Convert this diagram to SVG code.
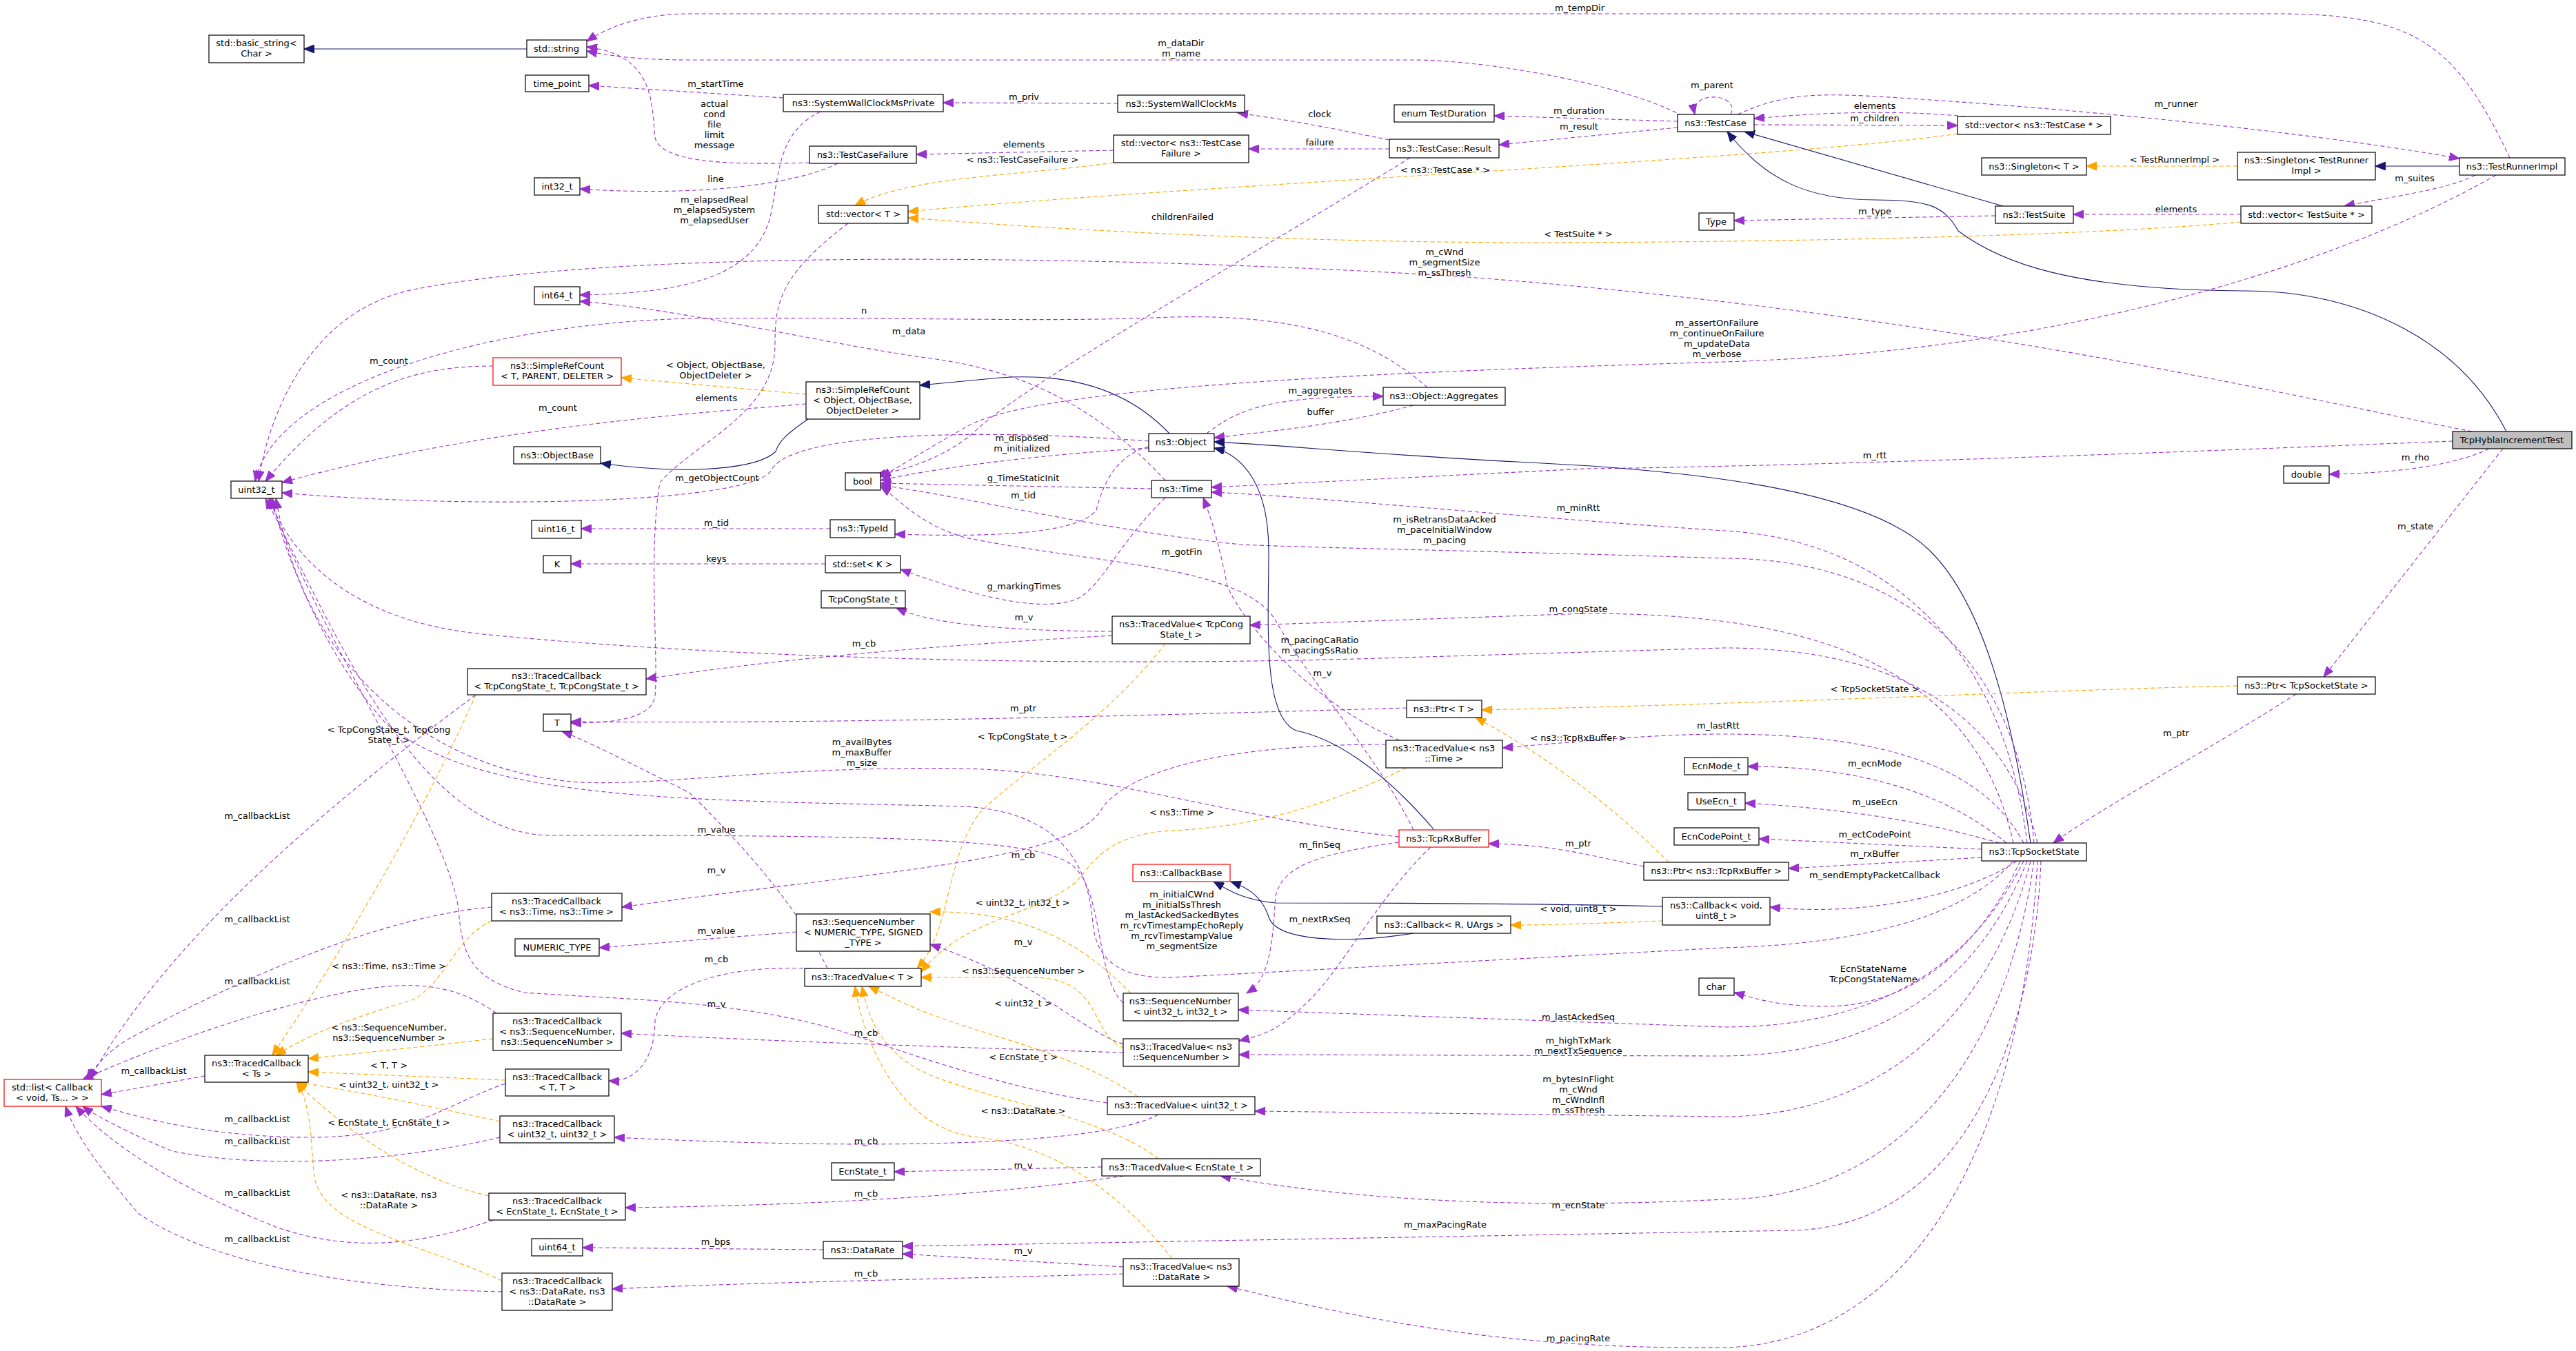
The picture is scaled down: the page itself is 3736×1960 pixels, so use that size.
<svg xmlns="http://www.w3.org/2000/svg" width="3736" height="1960" viewBox="0 0 3736 1960">
<style>
text{font-family:"DejaVu Sans","Liberation Sans",sans-serif;font-size:13px;text-anchor:middle;fill:#000}
.b{fill:#fff;stroke:#000;stroke-width:1.2}
.r{fill:#fff;stroke:#f00;stroke-width:1.2}
.g{fill:#bfbfbf;stroke:#000;stroke-width:1.2}
path{fill:none;stroke-width:1.1}
.p{stroke:#9a32cd;stroke-dasharray:6,4;marker-end:url(#mp)}
.o{stroke:#ffa500;stroke-dasharray:6,4;marker-end:url(#mo)}
.n{stroke:#191970;marker-end:url(#mn)}
</style>
<defs>
<marker id="mp" markerUnits="userSpaceOnUse" markerWidth="16" markerHeight="12" refX="15" refY="6" orient="auto"><path d="M0,0 L15,6 L0,12 z" style="fill:#9a32cd;stroke:#9a32cd"/></marker>
<marker id="mo" markerUnits="userSpaceOnUse" markerWidth="16" markerHeight="12" refX="15" refY="6" orient="auto"><path d="M0,0 L15,6 L0,12 z" style="fill:#ffa500;stroke:#ffa500"/></marker>
<marker id="mn" markerUnits="userSpaceOnUse" markerWidth="16" markerHeight="12" refX="15" refY="6" orient="auto"><path d="M0,0 L15,6 L0,12 z" style="fill:#191970;stroke:#191970"/></marker>
</defs>
<rect width="3736" height="1960" fill="#fff"/>
<g id="connectors">
<path class="n" d="M764,71 L441,71"/>
<path class="p" d="M3640,229 C3560,60 3500,20 3300,20 L1000,20 C930,20 880,40 851,60"/>
<path class="p" d="M2440,168 C2350,120 2150,87 2050,87 L1000,87 C920,87 880,80 851,74"/>
<path class="p" d="M1174,236 C1050,240 960,235 950,200 C945,150 950,80 851,68"/>
<path class="p" d="M1136,142 L854,124"/>
<path class="p" d="M1621,150 L1368,149"/>
<path class="p" d="M1215,237 C1150,270 1000,285 841,274"/>
<path class="p" d="M1190,162 C1130,190 1130,250 1120,300 C1105,400 1000,425 841,428"/>
<path class="p" d="M1615,218 L1329,224"/>
<path class="o" d="M1615,236 C1480,255 1320,255 1240,298"/>
<path class="p" d="M2015,203 C1950,190 1880,175 1795,164"/>
<path class="p" d="M2015,216 L1811,216"/>
<path class="p" d="M2433,176 L2167,168"/>
<path class="p" d="M2433,185 L2174,210"/>
<path class="p" d="M2510,166 C2525,135 2450,130 2458,166"/>
<path class="p" d="M2850,169 C2760,160 2650,162 2544,172"/>
<path class="p" d="M2544,181 L2839,182"/>
<path class="o" d="M2839,194 C2600,230 1700,270 1317,307"/>
<path class="p" d="M2520,166 C2600,130 2650,135 2800,145 C3100,165 3400,200 3567,230"/>
<path class="o" d="M3245,241 L3026,241"/>
<path class="n" d="M3567,241 L3445,241"/>
<path class="p" d="M3590,254 C3550,275 3470,285 3400,299"/>
<path class="p" d="M3250,311 L3007,311"/>
<path class="p" d="M2894,313 L2515,320"/>
<path class="n" d="M2905,299 L2530,191"/>
<path class="o" d="M3250,322 C3000,345 2500,352 2200,352 C1800,350 1500,330 1317,316"/>
<path class="n" d="M3635,626 C3560,480 3400,420 3250,422 C3000,420 2900,380 2840,335 C2820,300 2800,290 2720,290 C2620,290 2560,260 2505,191"/>
<path class="p" d="M2045,229 C1800,380 1500,550 1420,620 C1380,660 1320,680 1270,690"/>
<path class="p" d="M3585,626 C3300,570 2800,450 2100,400 C1600,370 900,360 600,420 C450,450 390,600 375,698"/>
<path class="p" d="M3620,254 C3400,380 3000,510 2500,525 C2000,540 1500,560 1400,620 C1330,660 1300,680 1277,692"/>
<path class="p" d="M715,531 C600,531 500,560 385,698"/>
<path class="o" d="M1169,572 L901,548"/>
<path class="p" d="M1169,586 C1000,600 700,620 409,700"/>
<path class="n" d="M1172,608 C1140,630 1130,640 1125,655 C1100,680 1000,690 871,672"/>
<path class="n" d="M1696,629 C1640,570 1560,540 1450,548 L1334,559"/>
<path class="p" d="M1666,640 C1400,620 1150,630 1120,680 C1100,730 700,740 409,715"/>
<path class="p" d="M1230,324 C1130,400 1124,440 1124,500 C1124,600 1010,640 957,700 C940,800 955,950 950,1010 C945,1040 900,1049 828,1049"/>
<path class="p" d="M1690,697 C1600,600 1500,540 1350,520 C1200,500 1000,450 841,437"/>
<path class="p" d="M2070,562 C2000,500 1900,455 1700,460 C1500,468 1400,460 1000,462 C700,470 400,560 370,698"/>
<path class="p" d="M1750,629 C1800,590 1850,575 2006,575"/>
<path class="p" d="M2050,588 C1950,615 1850,625 1761,635"/>
<path class="p" d="M1666,650 C1500,660 1350,680 1277,697"/>
<path class="p" d="M1670,709 L1277,701"/>
<path class="p" d="M1666,648 C1620,660 1600,700 1590,740 C1560,780 1400,778 1298,775"/>
<path class="p" d="M1204,767 L843,767"/>
<path class="p" d="M1197,818 L828,818"/>
<path class="p" d="M1690,722 C1620,790 1600,850 1560,870 C1500,890 1400,860 1306,826"/>
<path class="p" d="M1613,916 C1450,915 1350,905 1300,882"/>
<path class="p" d="M1613,922 C1300,940 1100,960 937,985"/>
<path class="p" d="M2920,1223 C2860,950 2600,890 2300,890 L1813,907"/>
<path class="p" d="M3557,640 C3300,650 2700,675 2300,680 L1757,707"/>
<path class="p" d="M3610,651 C3570,670 3500,686 3378,688"/>
<path class="p" d="M3630,651 L3370,982"/>
<path class="n" d="M2945,1223 C2920,1050 2880,880 2800,800 C2700,700 2400,680 2200,670 C2000,660 1850,645 1761,641"/>
<path class="p" d="M2940,1223 C2900,900 2700,780 2500,770 C2200,750 1900,720 1757,714"/>
<path class="p" d="M2950,1223 C2920,900 2700,810 2500,810 C2200,800 1900,795 1800,790 C1600,770 1400,720 1277,704"/>
<path class="p" d="M2050,1204 C2000,1100 1900,990 1850,900 C1800,820 1600,820 1400,780 C1330,760 1300,720 1277,706"/>
<path class="p" d="M2030,1074 C1900,1020 1800,900 1780,850 C1770,800 1760,760 1745,722"/>
<path class="p" d="M2955,1223 C2900,1000 2700,940 2500,940 L2000,955 C1500,970 1000,950 700,920 C500,900 420,800 390,723"/>
<path class="p" d="M2040,1027 C1600,1040 1200,1050 828,1047"/>
<path class="o" d="M3245,995 C3000,1000 2600,1020 2149,1030"/>
<path class="p" d="M3330,1007 C3200,1090 3050,1170 2978,1223"/>
<path class="o" d="M2420,1251 C2350,1180 2250,1100 2140,1041"/>
<path class="p" d="M2935,1223 C2880,1120 2750,1065 2500,1065 C2400,1065 2300,1075 2179,1085"/>
<path class="p" d="M2029,1214 C1800,1190 1600,1120 1400,1115 C1100,1110 900,1150 800,1130 C650,1110 450,1000 400,723"/>
<path class="o" d="M1690,934 C1600,1050 1480,1120 1420,1180 C1370,1250 1380,1350 1330,1405"/>
<path class="o" d="M2040,1114 C1900,1180 1800,1200 1700,1205 C1600,1210 1580,1260 1560,1280 C1500,1330 1400,1330 1336,1410"/>
<path class="p" d="M2010,1080 C1800,1080 1650,1110 1600,1170 C1560,1250 1300,1260 902,1316"/>
<path class="p" d="M1629,1455 C1590,1420 1600,1300 1560,1260 C1520,1215 1300,1212 800,1212 C600,1212 480,900 385,723"/>
<path class="p" d="M1606,1600 C1450,1580 1300,1520 1200,1490 C1050,1450 900,1450 760,1440 C680,1420 670,1380 665,1320 C650,1200 450,900 392,723"/>
<path class="p" d="M1155,1352 L869,1375"/>
<path class="p" d="M1200,1405 C1150,1300 1050,1200 1000,1150 C900,1100 840,1070 815,1061"/>
<path class="p" d="M1175,1405 C1050,1400 960,1430 950,1480 C950,1540 920,1570 883,1568"/>
<path class="p" d="M1629,1515 C1560,1490 1500,1420 1349,1370"/>
<path class="o" d="M1640,1441 C1580,1380 1500,1320 1349,1323"/>
<path class="o" d="M1629,1520 C1580,1500 1600,1420 1500,1418 L1336,1418"/>
<path class="o" d="M1650,1591 C1550,1520 1400,1500 1300,1450 L1260,1431"/>
<path class="o" d="M1680,1681 C1600,1620 1450,1600 1350,1560 C1280,1530 1260,1480 1250,1431"/>
<path class="o" d="M1700,1826 C1600,1700 1500,1660 1420,1650 C1300,1640 1250,1500 1240,1431"/>
<path class="p" d="M1629,1527 C1400,1520 1100,1510 901,1499"/>
<path class="p" d="M1680,1617 C1600,1660 1300,1670 891,1650"/>
<path class="p" d="M1598,1693 L1297,1700"/>
<path class="p" d="M1630,1706 C1400,1740 1100,1750 907,1752"/>
<path class="p" d="M1194,1813 L845,1810"/>
<path class="p" d="M1629,1838 C1500,1830 1400,1825 1309,1819"/>
<path class="p" d="M1629,1848 C1400,1855 1100,1860 888,1870"/>
<path class="p" d="M2960,1249 C2950,1500 2850,1780 2600,1785 L1309,1808"/>
<path class="p" d="M2955,1249 C2930,1700 2750,1950 2500,1955 C2200,1958 2000,1920 1780,1866"/>
<path class="p" d="M2950,1249 C2900,1600 2700,1740 2500,1740 C2200,1755 1950,1740 1770,1706"/>
<path class="p" d="M2945,1249 C2880,1500 2700,1620 2500,1620 L1820,1612"/>
<path class="p" d="M2940,1249 C2860,1450 2700,1530 2500,1532 L1797,1530"/>
<path class="p" d="M2935,1249 C2850,1420 2700,1490 2500,1490 L1796,1465"/>
<path class="p" d="M2930,1249 C2860,1400 2750,1460 2650,1460 C2580,1460 2550,1450 2515,1440"/>
<path class="p" d="M2925,1249 C2850,1300 2700,1330 2567,1316"/>
<path class="p" d="M2874,1244 L2594,1260"/>
<path class="p" d="M2874,1232 L2551,1217"/>
<path class="p" d="M2900,1223 C2800,1195 2700,1175 2531,1165"/>
<path class="p" d="M2910,1223 C2820,1150 2700,1112 2535,1112"/>
<path class="p" d="M2384,1257 C2300,1240 2250,1225 2159,1224"/>
<path class="n" d="M2411,1315 C2200,1310 2000,1310 1850,1310 C1800,1305 1780,1290 1760,1279"/>
<path class="n" d="M2050,1354 C1950,1370 1850,1365 1840,1330 C1830,1300 1810,1288 1785,1279"/>
<path class="o" d="M2411,1336 C2300,1340 2250,1342 2191,1342"/>
<path class="n" d="M2080,1204 C2000,1110 1930,1070 1880,1060 C1830,1040 1840,900 1840,800 C1840,700 1800,660 1761,650"/>
<path class="p" d="M2029,1222 C1900,1240 1860,1260 1850,1300 C1845,1380 1840,1420 1808,1441"/>
<path class="p" d="M2075,1229 C2000,1300 1950,1400 1900,1450 C1860,1490 1840,1500 1797,1510"/>
<path class="p" d="M2920,1249 C2850,1330 2700,1370 2500,1375 L1700,1418 C1620,1420 1590,1390 1585,1340 C1580,1280 1560,1180 1400,1170 C1000,1160 700,1165 560,1050 C470,950 410,800 395,723"/>
<path class="p" d="M690,1008 C500,1150 250,1350 130,1566"/>
<path class="p" d="M713,1316 C550,1330 350,1420 200,1500 C160,1520 140,1545 125,1566"/>
<path class="p" d="M720,1470 C650,1420 580,1425 500,1440 C350,1470 200,1530 120,1566"/>
<path class="p" d="M297,1561 L147,1588"/>
<path class="p" d="M733,1572 C650,1600 600,1650 450,1650 C300,1650 200,1620 147,1605"/>
<path class="p" d="M725,1650 C600,1680 400,1700 250,1670 C200,1650 140,1620 120,1605"/>
<path class="p" d="M715,1770 C600,1810 500,1815 400,1780 C250,1720 160,1660 110,1605"/>
<path class="p" d="M728,1874 C500,1870 300,1830 200,1760 C150,1700 110,1650 95,1605"/>
<path class="o" d="M690,1008 C650,1100 550,1300 395,1531"/>
<path class="o" d="M713,1336 C660,1360 650,1420 600,1450 C500,1480 450,1500 400,1531"/>
<path class="o" d="M715,1507 C600,1520 500,1530 447,1536"/>
<path class="o" d="M733,1567 L447,1555"/>
<path class="o" d="M725,1627 C600,1600 500,1580 430,1570"/>
<path class="o" d="M709,1735 C600,1710 500,1640 430,1570"/>
<path class="o" d="M728,1858 C600,1800 460,1780 455,1700 C450,1640 450,1600 430,1570"/>
</g>
<g id="labels">
<text x="2291" y="16">m_tempDir</text>
<text x="1713" y="67">m_dataDir</text><text x="1713" y="82">m_name</text>
<text x="1036" y="155">actual</text><text x="1036" y="170">cond</text><text x="1036" y="185">file</text><text x="1036" y="200">limit</text><text x="1036" y="215">message</text>
<text x="1038" y="126">m_startTime</text>
<text x="1485" y="145">m_priv</text>
<text x="1038" y="264">line</text>
<text x="1036" y="294">m_elapsedReal</text><text x="1036" y="309">m_elapsedSystem</text><text x="1036" y="324">m_elapsedUser</text>
<text x="1485" y="214">elements</text>
<text x="1483" y="236">&lt; ns3::TestCaseFailure &gt;</text>
<text x="1914" y="170">clock</text>
<text x="1914" y="211">failure</text>
<text x="2290" y="165">m_duration</text>
<text x="2290" y="188">m_result</text>
<text x="2483" y="128">m_parent</text>
<text x="2719" y="158">elements</text>
<text x="2719" y="176">m_children</text>
<text x="2096" y="251">&lt; ns3::TestCase * &gt;</text>
<text x="3156" y="155">m_runner</text>
<text x="3154" y="236">&lt; TestRunnerImpl &gt;</text>
<text x="3502" y="263">m_suites</text>
<text x="3156" y="308">elements</text>
<text x="2719" y="311">m_type</text>
<text x="2289" y="344">&lt; TestSuite * &gt;</text>
<text x="1715" y="319">childrenFailed</text>
<text x="2095" y="370">m_cWnd</text><text x="2095" y="385">m_segmentSize</text><text x="2095" y="400">m_ssThresh</text>
<text x="2490" y="473">m_assertOnFailure</text><text x="2490" y="488">m_continueOnFailure</text><text x="2490" y="503">m_updateData</text><text x="2490" y="518">m_verbose</text>
<text x="564" y="528">m_count</text>
<text x="1038" y="534">&lt; Object, ObjectBase,</text><text x="1038" y="549">ObjectDeleter &gt;</text>
<text x="809" y="596">m_count</text>
<text x="1039" y="582">elements</text>
<text x="1040" y="698">m_getObjectCount</text>
<text x="1318" y="485">m_data</text>
<text x="1253" y="455">n</text>
<text x="1915" y="571">m_aggregates</text>
<text x="1915" y="602">buffer</text>
<text x="1482" y="640">m_disposed</text><text x="1482" y="655">m_initialized</text>
<text x="1484" y="698">g_TimeStaticInit</text>
<text x="1484" y="723">m_tid</text>
<text x="1039" y="763">m_tid</text>
<text x="1039" y="815">keys</text>
<text x="1485" y="855">g_markingTimes</text>
<text x="1485" y="900">m_v</text>
<text x="1253" y="938">m_cb</text>
<text x="2289" y="888">m_congState</text>
<text x="2719" y="665">m_rtt</text>
<text x="3503" y="668">m_rho</text>
<text x="3503" y="768">m_state</text>
<text x="2289" y="741">m_minRtt</text>
<text x="2095" y="758">m_isRetransDataAcked</text><text x="2095" y="773">m_paceInitialWindow</text><text x="2095" y="788">m_pacing</text>
<text x="1714" y="805">m_gotFin</text>
<text x="1918" y="981">m_v</text>
<text x="1914" y="933">m_pacingCaRatio</text><text x="1914" y="948">m_pacingSsRatio</text>
<text x="1484" y="1032">m_ptr</text>
<text x="2719" y="1004">&lt; TcpSocketState &gt;</text>
<text x="3156" y="1068">m_ptr</text>
<text x="2289" y="1075">&lt; ns3::TcpRxBuffer &gt;</text>
<text x="2492" y="1057">m_lastRtt</text>
<text x="1250" y="1081">m_availBytes</text><text x="1250" y="1096">m_maxBuffer</text><text x="1250" y="1111">m_size</text>
<text x="1483" y="1073">&lt; TcpCongState_t &gt;</text>
<text x="1714" y="1183">&lt; ns3::Time &gt;</text>
<text x="1484" y="1245">m_cb</text>
<text x="1039" y="1208">m_value</text>
<text x="1039" y="1267">m_v</text>
<text x="1039" y="1396">m_cb</text>
<text x="1039" y="1355">m_value</text>
<text x="1039" y="1461">m_v</text>
<text x="1484" y="1371">m_v</text>
<text x="1483" y="1314">&lt; uint32_t, int32_t &gt;</text>
<text x="1484" y="1413">&lt; ns3::SequenceNumber &gt;</text>
<text x="1484" y="1460">&lt; uint32_t &gt;</text>
<text x="1484" y="1538">&lt; EcnState_t &gt;</text>
<text x="1484" y="1616">&lt; ns3::DataRate &gt;</text>
<text x="1256" y="1503">m_cb</text>
<text x="1256" y="1660">m_cb</text>
<text x="1484" y="1695">m_v</text>
<text x="1256" y="1736">m_cb</text>
<text x="1038" y="1806">m_bps</text>
<text x="1484" y="1819">m_v</text>
<text x="1256" y="1852">m_cb</text>
<text x="2096" y="1781">m_maxPacingRate</text>
<text x="2289" y="1946">m_pacingRate</text>
<text x="2289" y="1753">m_ecnState</text>
<text x="2289" y="1570">m_bytesInFlight</text><text x="2289" y="1585">m_cWnd</text><text x="2289" y="1600">m_cWndInfl</text><text x="2289" y="1615">m_ssThresh</text>
<text x="2289" y="1514">m_highTxMark</text><text x="2289" y="1529">m_nextTxSequence</text>
<text x="2289" y="1480">m_lastAckedSeq</text>
<text x="2717" y="1410">EcnStateName</text><text x="2717" y="1425">TcpCongStateName</text>
<text x="2719" y="1274">m_sendEmptyPacketCallback</text>
<text x="2719" y="1243">m_rxBuffer</text>
<text x="2719" y="1215">m_ectCodePoint</text>
<text x="2719" y="1168">m_useEcn</text>
<text x="2719" y="1112">m_ecnMode</text>
<text x="2289" y="1228">m_ptr</text>
<text x="2289" y="1323">&lt; void, uint8_t &gt;</text>
<text x="1914" y="1230">m_finSeq</text>
<text x="1914" y="1338">m_nextRxSeq</text>
<text x="1714" y="1302">m_initialCWnd</text><text x="1714" y="1317">m_initialSsThresh</text><text x="1714" y="1332">m_lastAckedSackedBytes</text><text x="1714" y="1347">m_rcvTimestampEchoReply</text><text x="1714" y="1362">m_rcvTimestampValue</text><text x="1714" y="1377">m_segmentSize</text>
<text x="373" y="1188">m_callbackList</text>
<text x="373" y="1338">m_callbackList</text>
<text x="373" y="1428">m_callbackList</text>
<text x="223" y="1558">m_callbackList</text>
<text x="373" y="1628">m_callbackList</text>
<text x="373" y="1660">m_callbackList</text>
<text x="373" y="1735">m_callbackList</text>
<text x="373" y="1802">m_callbackList</text>
<text x="564" y="1063">&lt; TcpCongState_t, TcpCong</text><text x="564" y="1078">State_t &gt;</text>
<text x="564" y="1406">&lt; ns3::Time, ns3::Time &gt;</text>
<text x="564" y="1495">&lt; ns3::SequenceNumber,</text><text x="564" y="1510">ns3::SequenceNumber &gt;</text>
<text x="564" y="1550">&lt; T, T &gt;</text>
<text x="564" y="1578">&lt; uint32_t, uint32_t &gt;</text>
<text x="564" y="1633">&lt; EcnState_t, EcnState_t &gt;</text>
<text x="564" y="1738">&lt; ns3::DataRate, ns3</text><text x="564" y="1753">::DataRate &gt;</text>
</g>
<g id="n_basic"><rect class="b" x="303" y="51" width="138" height="40"/><text x="372" y="67">std::basic_string&lt;</text><text x="372" y="82">Char &gt;</text></g>
<g id="n_string"><rect class="b" x="764" y="58" width="87" height="25"/><text x="807" y="75">std::string</text></g>
<g id="n_timepoint"><rect class="b" x="762" y="109" width="92" height="24"/><text x="808" y="126">time_point</text></g>
<g id="n_swcmp"><rect class="b" x="1136" y="137" width="232" height="25"/><text x="1252" y="154">ns3::SystemWallClockMsPrivate</text></g>
<g id="n_swcm"><rect class="b" x="1621" y="138" width="184" height="25"/><text x="1713" y="155">ns3::SystemWallClockMs</text></g>
<g id="n_tcf"><rect class="b" x="1174" y="212" width="155" height="25"/><text x="1251" y="229">ns3::TestCaseFailure</text></g>
<g id="n_int32"><rect class="b" x="775" y="258" width="66" height="25"/><text x="808" y="275">int32_t</text></g>
<g id="n_vectcf"><rect class="b" x="1615" y="196" width="196" height="40"/><text x="1713" y="212">std::vector&lt; ns3::TestCase</text><text x="1713" y="227">Failure &gt;</text></g>
<g id="n_vect"><rect class="b" x="1187" y="298" width="130" height="26"/><text x="1252" y="315">std::vector&lt; T &gt;</text></g>
<g id="n_enumdur"><rect class="b" x="2022" y="152" width="145" height="25"/><text x="2094" y="169">enum TestDuration</text></g>
<g id="n_result"><rect class="b" x="2015" y="202" width="159" height="27"/><text x="2094" y="220">ns3::TestCase::Result</text></g>
<g id="n_testcase"><rect class="b" x="2433" y="166" width="111" height="25"/><text x="2488" y="183">ns3::TestCase</text></g>
<g id="n_vectc"><rect class="b" x="2839" y="169" width="222" height="26"/><text x="2950" y="186">std::vector&lt; ns3::TestCase * &gt;</text></g>
<g id="n_singT"><rect class="b" x="2874" y="229" width="152" height="25"/><text x="2950" y="246">ns3::Singleton&lt; T &gt;</text></g>
<g id="n_singTR"><rect class="b" x="3245" y="221" width="200" height="40"/><text x="3345" y="237">ns3::Singleton&lt; TestRunner</text><text x="3345" y="252">Impl &gt;</text></g>
<g id="n_runner"><rect class="b" x="3567" y="229" width="153" height="25"/><text x="3643" y="246">ns3::TestRunnerImpl</text></g>
<g id="n_type"><rect class="b" x="2464" y="309" width="51" height="25"/><text x="2489" y="326">Type</text></g>
<g id="n_suite"><rect class="b" x="2894" y="299" width="113" height="25"/><text x="2950" y="316">ns3::TestSuite</text></g>
<g id="n_vecs"><rect class="b" x="3250" y="299" width="190" height="25"/><text x="3345" y="316">std::vector&lt; TestSuite * &gt;</text></g>
<g id="n_int64"><rect class="b" x="775" y="416" width="66" height="26"/><text x="808" y="433">int64_t</text></g>
<g id="n_srcT"><rect class="r" x="715" y="519" width="186" height="40"/><text x="808" y="535">ns3::SimpleRefCount</text><text x="808" y="550">&lt; T, PARENT, DELETER &gt;</text></g>
<g id="n_srcO"><rect class="b" x="1169" y="554" width="165" height="54"/><text x="1251" y="570">ns3::SimpleRefCount</text><text x="1251" y="585">&lt; Object, ObjectBase,</text><text x="1251" y="600">ObjectDeleter &gt;</text></g>
<g id="n_aggr"><rect class="b" x="2006" y="562" width="177" height="26"/><text x="2094" y="579">ns3::Object::Aggregates</text></g>
<g id="n_objbase"><rect class="b" x="745" y="648" width="126" height="25"/><text x="808" y="665">ns3::ObjectBase</text></g>
<g id="n_object"><rect class="b" x="1666" y="629" width="95" height="26"/><text x="1713" y="646">ns3::Object</text></g>
<g id="n_hybla"><rect class="g" x="3557" y="626" width="173" height="25"/><text x="3643" y="643">TcpHyblaIncrementTest</text></g>
<g id="n_double"><rect class="b" x="3312" y="676" width="66" height="25"/><text x="3345" y="693">double</text></g>
<g id="n_bool"><rect class="b" x="1226" y="686" width="51" height="25"/><text x="1251" y="703">bool</text></g>
<g id="n_uint32"><rect class="b" x="335" y="698" width="74" height="25"/><text x="372" y="715">uint32_t</text></g>
<g id="n_time"><rect class="b" x="1670" y="697" width="87" height="25"/><text x="1713" y="714">ns3::Time</text></g>
<g id="n_uint16"><rect class="b" x="771" y="755" width="72" height="26"/><text x="807" y="772">uint16_t</text></g>
<g id="n_typeid"><rect class="b" x="1204" y="754" width="94" height="26"/><text x="1251" y="771">ns3::TypeId</text></g>
<g id="n_K"><rect class="b" x="788" y="806" width="40" height="25"/><text x="808" y="823">K</text></g>
<g id="n_set"><rect class="b" x="1197" y="806" width="109" height="25"/><text x="1251" y="823">std::set&lt; K &gt;</text></g>
<g id="n_tcs"><rect class="b" x="1191" y="857" width="122" height="25"/><text x="1252" y="874">TcpCongState_t</text></g>
<g id="n_tvtcs"><rect class="b" x="1613" y="894" width="200" height="40"/><text x="1713" y="910">ns3::TracedValue&lt; TcpCong</text><text x="1713" y="925">State_t &gt;</text></g>
<g id="n_tccs"><rect class="b" x="678" y="970" width="259" height="38"/><text x="807" y="985">ns3::TracedCallback</text><text x="807" y="1000">&lt; TcpCongState_t, TcpCongState_t &gt;</text></g>
<g id="n_ptrtss"><rect class="b" x="3245" y="982" width="200" height="25"/><text x="3345" y="999">ns3::Ptr&lt; TcpSocketState &gt;</text></g>
<g id="n_ptrT"><rect class="b" x="2040" y="1016" width="109" height="25"/><text x="2094" y="1033">ns3::Ptr&lt; T &gt;</text></g>
<g id="n_T"><rect class="b" x="788" y="1036" width="40" height="25"/><text x="808" y="1053">T</text></g>
<g id="n_tvtime"><rect class="b" x="2010" y="1074" width="169" height="40"/><text x="2094" y="1090">ns3::TracedValue&lt; ns3</text><text x="2094" y="1105">::Time &gt;</text></g>
<g id="n_ecnmode"><rect class="b" x="2443" y="1099" width="92" height="25"/><text x="2489" y="1116">EcnMode_t</text></g>
<g id="n_useecn"><rect class="b" x="2448" y="1150" width="83" height="25"/><text x="2489" y="1167">UseEcn_t</text></g>
<g id="n_ecp"><rect class="b" x="2428" y="1201" width="123" height="25"/><text x="2489" y="1218">EcnCodePoint_t</text></g>
<g id="n_rxbuf"><rect class="r" x="2029" y="1204" width="130" height="25"/><text x="2094" y="1221">ns3::TcpRxBuffer</text></g>
<g id="n_tss"><rect class="b" x="2874" y="1223" width="152" height="26"/><text x="2950" y="1240">ns3::TcpSocketState</text></g>
<g id="n_ptrrx"><rect class="b" x="2384" y="1251" width="210" height="26"/><text x="2489" y="1268">ns3::Ptr&lt; ns3::TcpRxBuffer &gt;</text></g>
<g id="n_cbbase"><rect class="r" x="1643" y="1254" width="141" height="25"/><text x="1713" y="1271">ns3::CallbackBase</text></g>
<g id="n_tctime"><rect class="b" x="713" y="1296" width="189" height="40"/><text x="807" y="1312">ns3::TracedCallback</text><text x="807" y="1327">&lt; ns3::Time, ns3::Time &gt;</text></g>
<g id="n_cbvoid"><rect class="b" x="2411" y="1302" width="156" height="40"/><text x="2489" y="1318">ns3::Callback&lt; void,</text><text x="2489" y="1333">uint8_t &gt;</text></g>
<g id="n_seqnum"><rect class="b" x="1155" y="1326" width="194" height="54"/><text x="1252" y="1342">ns3::SequenceNumber</text><text x="1252" y="1357">&lt; NUMERIC_TYPE, SIGNED</text><text x="1252" y="1372">_TYPE &gt;</text></g>
<g id="n_cbR"><rect class="b" x="1997" y="1329" width="194" height="25"/><text x="2094" y="1346">ns3::Callback&lt; R, UArgs &gt;</text></g>
<g id="n_numtype"><rect class="b" x="747" y="1362" width="122" height="25"/><text x="808" y="1379">NUMERIC_TYPE</text></g>
<g id="n_tvT"><rect class="b" x="1167" y="1405" width="169" height="26"/><text x="1251" y="1422">ns3::TracedValue&lt; T &gt;</text></g>
<g id="n_char"><rect class="b" x="2464" y="1419" width="51" height="25"/><text x="2489" y="1436">char</text></g>
<g id="n_seq32"><rect class="b" x="1629" y="1441" width="167" height="40"/><text x="1712" y="1457">ns3::SequenceNumber</text><text x="1712" y="1472">&lt; uint32_t, int32_t &gt;</text></g>
<g id="n_tcseq"><rect class="b" x="715" y="1470" width="186" height="54"/><text x="808" y="1486">ns3::TracedCallback</text><text x="808" y="1501">&lt; ns3::SequenceNumber,</text><text x="808" y="1516">ns3::SequenceNumber &gt;</text></g>
<g id="n_tvseq"><rect class="b" x="1629" y="1507" width="168" height="40"/><text x="1713" y="1523">ns3::TracedValue&lt; ns3</text><text x="1713" y="1538">::SequenceNumber &gt;</text></g>
<g id="n_tcTs"><rect class="b" x="297" y="1531" width="150" height="39"/><text x="372" y="1547">ns3::TracedCallback</text><text x="372" y="1562">&lt; Ts &gt;</text></g>
<g id="n_tcTT"><rect class="b" x="733" y="1551" width="150" height="39"/><text x="808" y="1567">ns3::TracedCallback</text><text x="808" y="1582">&lt; T, T &gt;</text></g>
<g id="n_list"><rect class="r" x="6" y="1566" width="141" height="39"/><text x="76" y="1582">std::list&lt; Callback</text><text x="76" y="1597">&lt; void, Ts... &gt; &gt;</text></g>
<g id="n_tvu32"><rect class="b" x="1606" y="1591" width="214" height="26"/><text x="1713" y="1608">ns3::TracedValue&lt; uint32_t &gt;</text></g>
<g id="n_tcu32"><rect class="b" x="725" y="1619" width="166" height="39"/><text x="808" y="1635">ns3::TracedCallback</text><text x="808" y="1650">&lt; uint32_t, uint32_t &gt;</text></g>
<g id="n_tvecn"><rect class="b" x="1598" y="1681" width="230" height="25"/><text x="1713" y="1698">ns3::TracedValue&lt; EcnState_t &gt;</text></g>
<g id="n_ecnstate"><rect class="b" x="1206" y="1687" width="91" height="25"/><text x="1251" y="1704">EcnState_t</text></g>
<g id="n_tcecn"><rect class="b" x="709" y="1731" width="198" height="39"/><text x="808" y="1747">ns3::TracedCallback</text><text x="808" y="1762">&lt; EcnState_t, EcnState_t &gt;</text></g>
<g id="n_uint64"><rect class="b" x="771" y="1797" width="74" height="25"/><text x="808" y="1814">uint64_t</text></g>
<g id="n_datarate"><rect class="b" x="1194" y="1801" width="115" height="25"/><text x="1251" y="1818">ns3::DataRate</text></g>
<g id="n_tvdr"><rect class="b" x="1629" y="1826" width="168" height="40"/><text x="1713" y="1842">ns3::TracedValue&lt; ns3</text><text x="1713" y="1857">::DataRate &gt;</text></g>
<g id="n_tcdr"><rect class="b" x="728" y="1847" width="160" height="54"/><text x="808" y="1863">ns3::TracedCallback</text><text x="808" y="1878">&lt; ns3::DataRate, ns3</text><text x="808" y="1893">::DataRate &gt;</text></g>
</svg>
